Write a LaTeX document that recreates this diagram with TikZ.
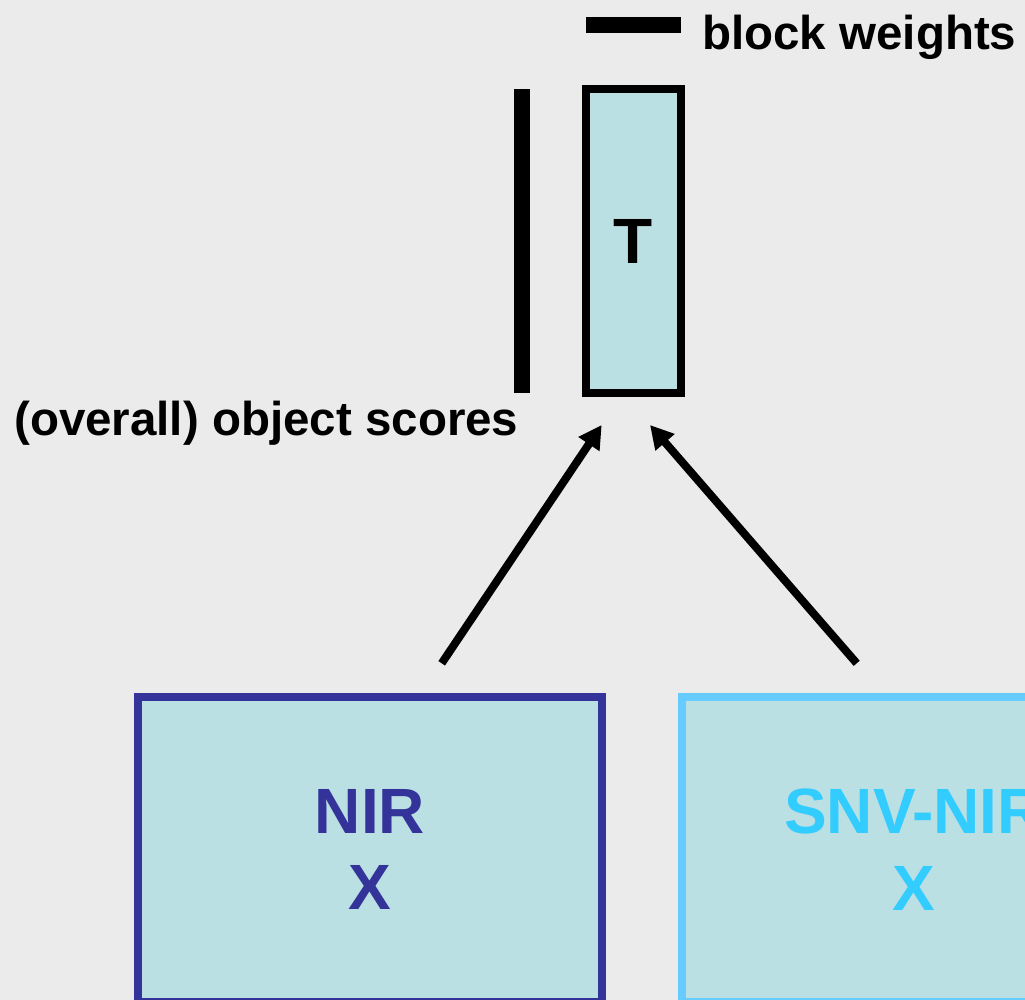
\documentclass[tikz,border=0pt]{standalone}
\usepackage{fontspec}
\setmainfont{Liberation Sans}
\usetikzlibrary{arrows.meta}

\definecolor{canvas}{HTML}{EBEBEB}
\definecolor{blockfill}{HTML}{BBE0E3}
\definecolor{nirblue}{HTML}{333399}
\definecolor{snvedge}{HTML}{66CCFF}
\definecolor{snvtext}{HTML}{33CCFF}

\tikzset{
  label47/.style={inner sep=0pt, font=\fontsize{47.5}{56}\selectfont\bfseries},
  blocktext/.style={font=\fontsize{64}{76.7}\selectfont\bfseries, align=center},
  scorebox/.style={draw=black, line width=8pt, fill=blockfill, inner sep=0pt,
    minimum width=95.6pt, minimum height=304pt, blocktext},
  databox/.style={line width=8pt, fill=blockfill, inner sep=0pt,
    minimum width=464pt, minimum height=304.2pt, blocktext},
  legendbar/.style={fill=black},
  flow/.style={line width=8pt, -{Triangle[length=23pt,width=24pt]}},
}

\begin{document}
\begin{tikzpicture}[x=1pt, y=-1pt]
  % canvas
  \clip (0,0) rectangle (1025,1000);
  \fill[canvas] (0,0) rectangle (1025,1000);

  % legend bars
  \fill[legendbar] (586,17) rectangle (681,33);
  \fill[legendbar] (514,89) rectangle (530,393);

  % labels
  \node[label47, anchor=base west] (wlabel) at (702,50) {block weights};
  \node[label47, anchor=base west] (slabel) at (14,435) {(overall) object scores};

  % score block
  \node[scorebox] (tbox) at (633.5,241) {T};

  % data blocks
  \node[databox, draw=nirblue, text=nirblue] (nir) at (370,849.4) {NIR\\X};
  \node[databox, draw=snvedge, text=snvtext] (snv) at (914,849.4) {SNV-NIR\\X};

  % arrow end points
  \coordinate (nirtail) at (441.7,663.3);
  \coordinate (nirhead) at (601.7,425);
  \coordinate (snvtail) at (856.7,663.3);
  \coordinate (snvhead) at (650,425);

  \draw[flow] (nirtail) -- (nirhead);
  \draw[flow] (snvtail) -- (snvhead);
\end{tikzpicture}
\end{document}
